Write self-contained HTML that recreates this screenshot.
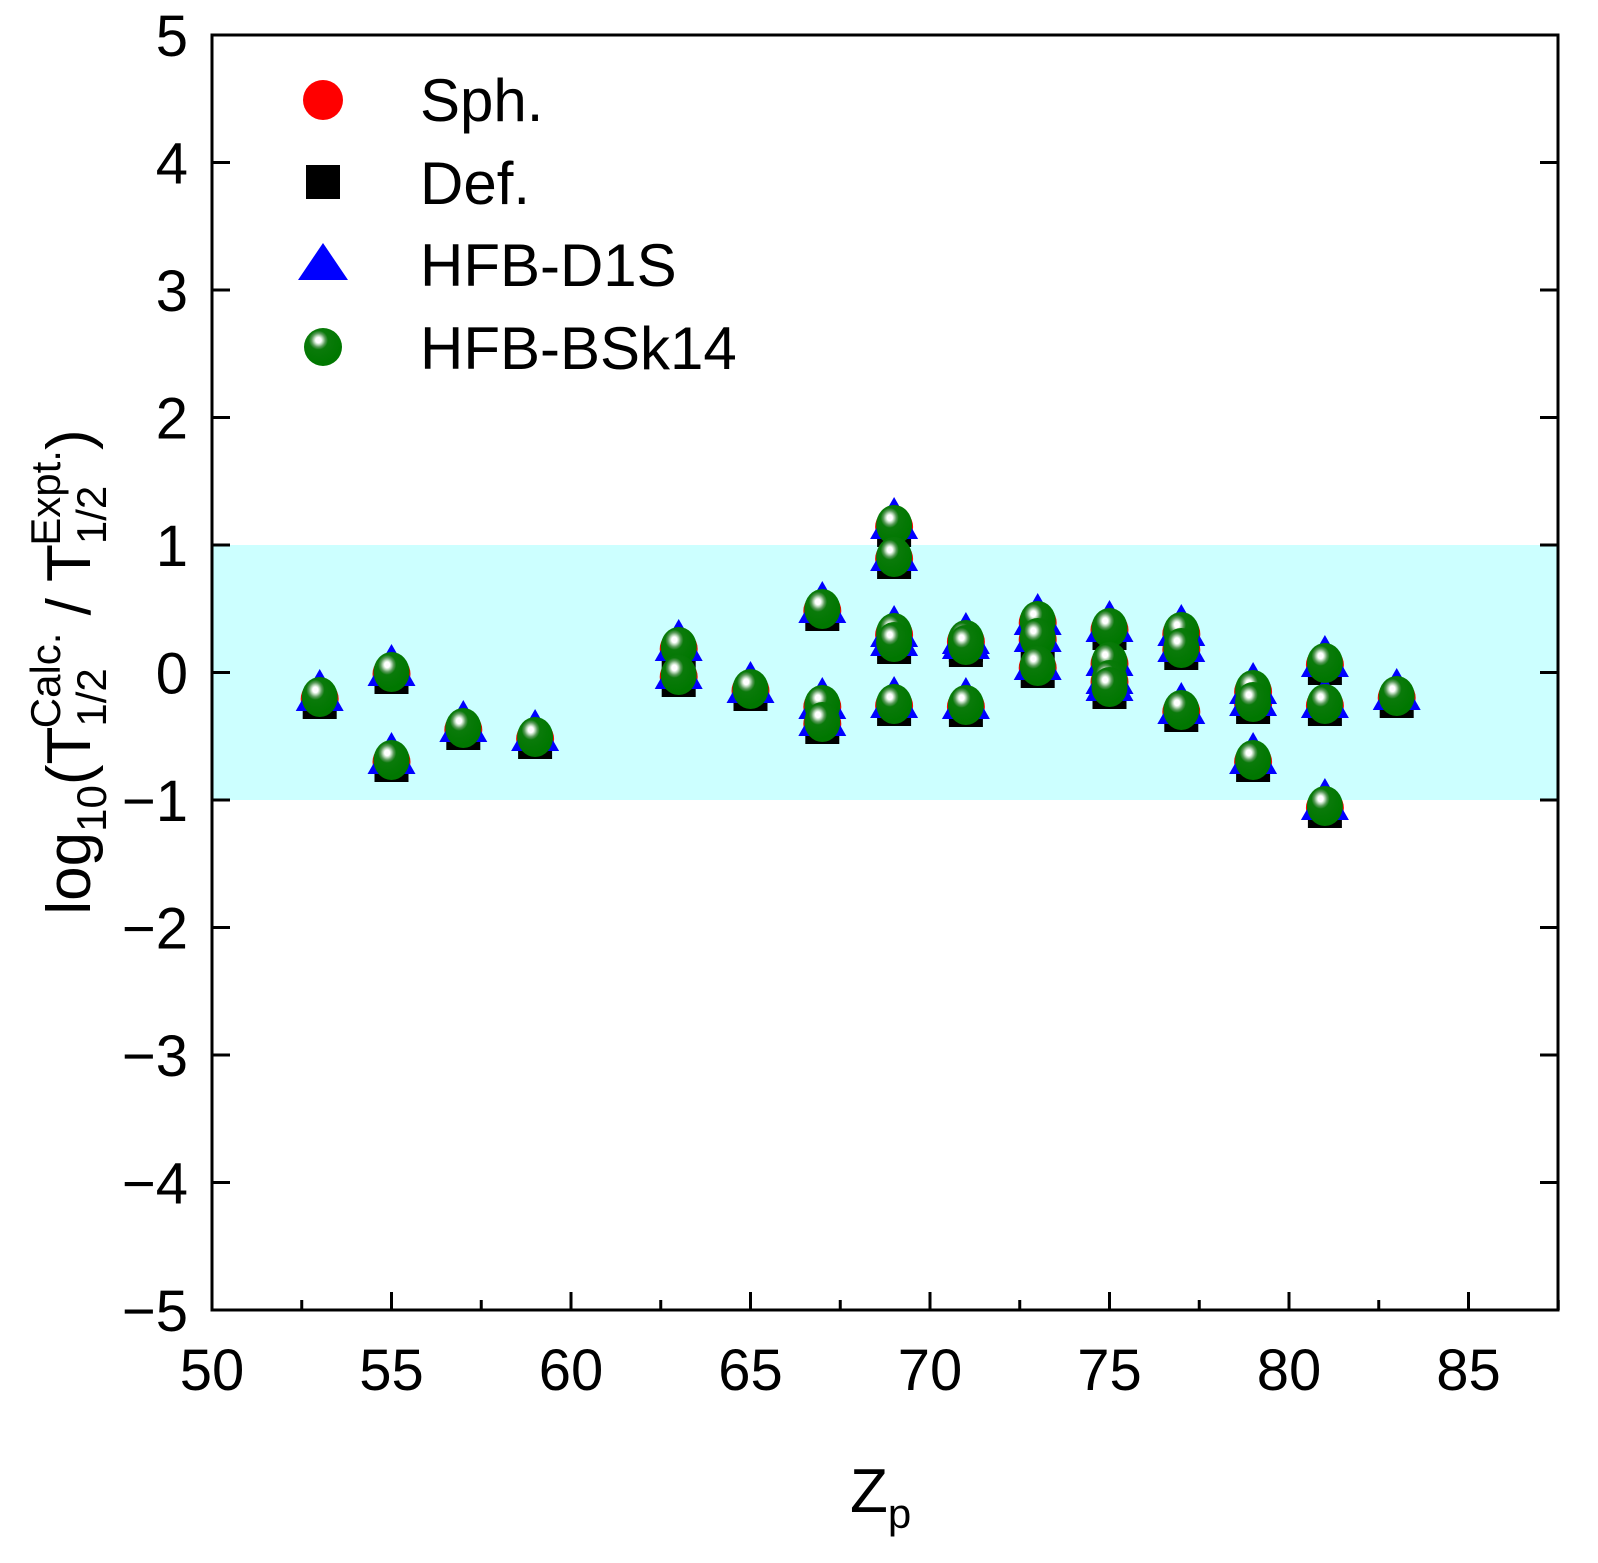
<!DOCTYPE html>
<html><head><meta charset="utf-8"><style>
html,body{margin:0;padding:0;background:#fff;}
svg{display:block;font-family:"Liberation Sans",Arial,sans-serif;}
</style></head><body>
<svg id="s" width="1598" height="1563" viewBox="0 0 1598 1563" xmlns="http://www.w3.org/2000/svg">
<defs>
<radialGradient id="g" cx="0.38" cy="0.32" r="0.6">
<stop offset="0" stop-color="#fff"/><stop offset="0.12" stop-color="#fff"/><stop offset="0.2" stop-color="#b8d8b8"/><stop offset="0.3" stop-color="#5a9a5a"/><stop offset="0.42" stop-color="#0a7a0a"/><stop offset="1" stop-color="#007700"/>
</radialGradient>
</defs>
<rect x="212" y="545" width="1346" height="255" fill="#ccffff"/>
<g id="pts"></g>
<rect x="212" y="35" width="1346" height="1275" fill="none" stroke="#000" stroke-width="3"/>
<g id="ticks" stroke="#000" stroke-width="3"></g>
<g font-size="58" fill="#000" text-anchor="end" id="yl"></g>
<g font-size="58" fill="#000" text-anchor="middle" id="xl"></g>
<text x="850" y="1512" font-size="62">Z<tspan font-size="42" dy="16">p</tspan></text>
<text transform="translate(90,672) rotate(-90)" font-size="62" text-anchor="middle">log<tspan font-size="42" dy="16">10</tspan><tspan dy="-16">(T</tspan><tspan font-size="42" dy="16">1/2</tspan><tspan font-size="42" dx="-60" dy="-46">Calc.</tspan><tspan dy="30"> / T</tspan><tspan font-size="42" dy="16">1/2</tspan><tspan font-size="42" dx="-60" dy="-46">Expt.</tspan><tspan dy="30">)</tspan></text>
<g font-size="60" fill="#000">
<text x="420" y="121">Sph.</text>
<text x="420" y="204">Def.</text>
<text x="420" y="286">HFB-D1S</text>
<text x="420" y="369">HFB-BSk14</text>
</g>
<circle cx="323" cy="100" r="20" fill="#ff0000"/>
<rect x="306" y="165" width="34" height="34" fill="#000"/>
<polygon points="323,243 348,280 298,280" fill="#0000ff"/>
<circle cx="323" cy="347" r="19" fill="url(#g)"/>
</svg>
<script>
var NS="http://www.w3.org/2000/svg";
function el(p,t,a){var e=document.createElementNS(NS,t);for(var k in a)e.setAttribute(k,a[k]);p.appendChild(e);return e;}
var X=function(z){return 212+(z-50)*35.9;},Y=function(v){return 672.5-v*127.5;};
var tk=document.getElementById('ticks'),yl=document.getElementById('yl'),xl=document.getElementById('xl');
for(var v=-5;v<=5;v++){var y=Y(v);el(tk,'line',{x1:212,x2:230,y1:y,y2:y});el(tk,'line',{x1:1558,x2:1540,y1:y,y2:y});
 var t=el(yl,'text',{x:188,y:y+21});t.textContent=(v<0?'\u2212'+(-v):''+v);}
for(var z=52.5;z<=87.5;z+=2.5){var x=X(z);var L=(z%5==0)?18:10;el(tk,'line',{x1:x,x2:x,y1:1310,y2:1310-L});
 if(z%5==0){var t2=el(xl,'text',{x:x,y:1390});t2.textContent=''+z;}}
var t3=el(xl,'text',{x:X(50),y:1390});t3.textContent='50';
var d=[[53,[697]],[55,[672,760]],[57,[728]],[59,[737]],[63,[647,675]],[65,[689]],[67,[609,705,722]],
[69,[525,557,633,642,704]],[71,[640,645,705]],[73,[621,638,666]],[75,[628,662,680,687]],[77,[632,648,710]],
[79,[690,702,760]],[81,[663,704,806]],[83,[696]]];
var g=document.getElementById('pts');
var L0=[];
d.forEach(function(p){var x=X(p[0]);p[1].forEach(function(y){L0.push([x,y]);});});
['r','s','t','c'].forEach(function(k){L0.forEach(function(q){var x=q[0],y=q[1];
 if(k=='r')el(g,'circle',{cx:x,cy:y+2,r:19,fill:'#ff0000'});
 if(k=='s')el(g,'rect',{x:x-17,y:y-6,width:34,height:28,fill:'#000'});
 if(k=='t')el(g,'polygon',{points:x+','+(y-28)+' '+(x+24)+','+(y+14)+' '+(x-24)+','+(y+14),fill:'#0000ff'});
 if(k=='c')el(g,'ellipse',{cx:x,cy:y,rx:18,ry:20,fill:'url(#g)'});
});});
</script>
</body></html>
